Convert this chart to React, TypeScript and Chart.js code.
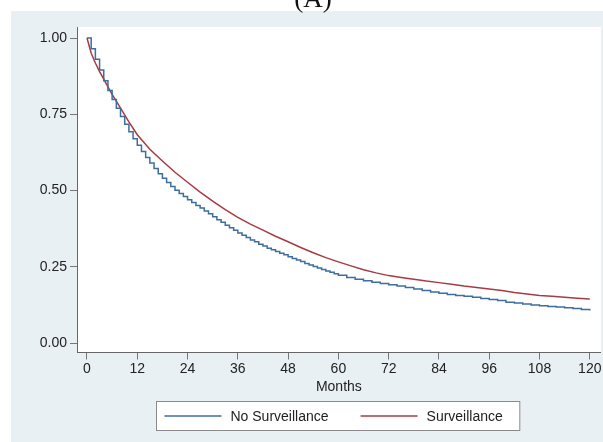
import { useEffect, useRef } from "react";
import { Chart, registerables } from "chart.js";

Chart.register(...registerables);

const panelTitle = "(A)";
const xAxisTitle = "Months";
const seriesLabels = ["No Surveillance", "Surveillance"];
const seriesColors = ["#3d6e9e", "#a83a42"];

const xTickValues = [0, 12, 24, 36, 48, 60, 72, 84, 96, 108, 120];
const yTickValues = [0, 0.25, 0.5, 0.75, 1];

const noSurvMonths = [
  0, 1, 2, 3, 4, 5, 6, 7, 8, 9, 10, 11, 12, 13, 14, 15, 16, 17, 18, 19, 20, 21, 22, 23, 24,
  25, 26, 27, 28, 29, 30, 31, 32, 33, 34, 35, 36, 37, 38, 39, 40, 41, 42, 43, 44, 45, 46,
  47, 48, 49, 50, 51, 52, 53, 54, 55, 56, 57, 58, 59, 60,
  62, 64, 66, 68, 70, 72, 74, 76, 78, 80, 82, 84, 86, 88, 90, 92, 94, 96,
  98, 100, 102, 104, 106, 108, 110, 112, 114, 116, 118, 120,
];
const noSurvValues = [
  1.0, 0.965, 0.93, 0.895, 0.86, 0.828, 0.798, 0.77, 0.743, 0.717, 0.693, 0.67, 0.648,
  0.628, 0.608, 0.59, 0.572, 0.555, 0.54, 0.526, 0.513, 0.501, 0.49, 0.48, 0.47,
  0.461, 0.451, 0.443, 0.433, 0.424, 0.414, 0.404, 0.396, 0.386, 0.378, 0.37, 0.361,
  0.353, 0.346, 0.338, 0.332, 0.324, 0.318, 0.311, 0.306, 0.3, 0.294, 0.289, 0.283,
  0.277, 0.272, 0.267, 0.261, 0.256, 0.251, 0.246, 0.241, 0.236, 0.232, 0.227, 0.222,
  0.215, 0.209, 0.204, 0.199, 0.195, 0.191, 0.187, 0.182, 0.177, 0.172, 0.167, 0.163,
  0.159, 0.156, 0.153, 0.15, 0.146, 0.143,
  0.139, 0.134, 0.131, 0.128, 0.125, 0.122, 0.12, 0.118, 0.116, 0.113, 0.11, 0.107,
];

const survMonths = [
  0, 1, 2, 3, 4, 5, 6, 8, 10, 12, 15, 18, 21, 24, 27, 30, 33, 36, 39, 42, 45, 48,
  51, 54, 57, 60, 63, 66, 69, 72, 75, 78, 81, 84, 87, 90, 93, 96, 99, 102, 105, 108,
  111, 114, 117, 120,
];
const survValues = [
  1.0, 0.95, 0.918, 0.89, 0.865, 0.84, 0.815, 0.77, 0.725, 0.683, 0.635, 0.597, 0.56,
  0.527, 0.495, 0.465, 0.437, 0.412, 0.39, 0.37, 0.35, 0.332,
  0.313, 0.296, 0.28, 0.266, 0.253, 0.24, 0.23, 0.221, 0.215, 0.209, 0.203, 0.198,
  0.193, 0.187, 0.182, 0.177, 0.172, 0.166, 0.161, 0.156,
  0.153, 0.15, 0.147, 0.144,
];

const FONT = "'Liberation Sans', Arial, Helvetica, sans-serif";

const backdropPlugin = {
  id: "backdrop",
  beforeDraw(chart: any) {
    const { ctx, width, height, chartArea } = chart;
    ctx.save();
    ctx.fillStyle = "#ffffff";
    ctx.fillRect(0, 0, width, height);
    ctx.fillStyle = "#e9f0f3";
    ctx.fillRect(11, 11, width - 11, height - 11);
    ctx.fillStyle = "#ffffff";
    ctx.fillRect(chartArea.left, chartArea.top, chartArea.right - chartArea.left, chartArea.bottom - chartArea.top);
    ctx.fillStyle = "#111111";
    ctx.font = "27px 'Liberation Serif', 'DejaVu Serif', serif";
    ctx.textAlign = "center";
    ctx.textBaseline = "alphabetic";
    ctx.fillText(panelTitle, 313, 7);
    ctx.restore();
  },
};

const boxLegendPlugin = {
  id: "boxLegend",
  afterDraw(chart: any) {
    const { ctx, chartArea } = chart;
    const datasets = chart.data.datasets;
    ctx.save();
    ctx.font = `14px ${FONT}`;
    const lineLen = 57;
    const gapText = 9;
    const gapItem = 32;
    const padL = 8;
    const padR = 17;
    let total = padL + padR;
    datasets.forEach((ds: any, i: number) => {
      total += lineLen + gapText + ctx.measureText(ds.label).width;
      if (i < datasets.length - 1) total += gapItem;
    });
    const cx = (chartArea.left + chartArea.right) / 2;
    const left = Math.round(cx - total / 2) - 0.5;
    const top = 401.5;
    const h = 29;
    ctx.fillStyle = "#ffffff";
    ctx.fillRect(left, top, total, h);
    ctx.strokeStyle = "#8a8a8a";
    ctx.lineWidth = 1;
    ctx.strokeRect(left, top, total, h);
    let x = left + padL;
    const yMid = top + h / 2;
    datasets.forEach((ds: any) => {
      ctx.strokeStyle = ds.borderColor;
      ctx.lineWidth = 1.5;
      ctx.beginPath();
      ctx.moveTo(x, yMid);
      ctx.lineTo(x + lineLen, yMid);
      ctx.stroke();
      x += lineLen + gapText;
      ctx.fillStyle = "#222222";
      ctx.textAlign = "left";
      ctx.textBaseline = "middle";
      ctx.fillText(ds.label, x, yMid + 1);
      x += ctx.measureText(ds.label).width + gapItem;
    });
    ctx.restore();
  },
};

export default function App() {
  const canvasRef = useRef<HTMLCanvasElement | null>(null);

  useEffect(() => {
    if (!canvasRef.current) return;
    const chart = new Chart(canvasRef.current, {
      type: "line",
      data: {
        datasets: [
          {
            label: seriesLabels[0],
            data: noSurvMonths.map((m, i) => ({ x: m, y: noSurvValues[i] })),
            borderColor: seriesColors[0],
            borderWidth: 1.5,
            pointRadius: 0,
            stepped: true,
            fill: false,
          },
          {
            label: seriesLabels[1],
            data: survMonths.map((m, i) => ({ x: m, y: survValues[i] })),
            borderColor: seriesColors[1],
            borderWidth: 1.5,
            pointRadius: 0,
            tension: 0,
            fill: false,
          },
        ],
      },
      options: {
        animation: false,
        responsive: false,
        maintainAspectRatio: false,
        layout: { padding: { left: 0, top: 27, right: 2, bottom: 44.5 } },
        plugins: {
          legend: { display: false },
          tooltip: { enabled: false },
        },
        scales: {
          x: {
            type: "linear",
            min: -2.386,
            max: 122.62,
            afterBuildTicks: (s: any) => {
              s.ticks = xTickValues.map((v) => ({ value: v }));
            },
            afterFit: (s: any) => {
              s.height = 45;
            },
            grid: { display: true, drawOnChartArea: false, drawTicks: true, tickLength: 7, color: "#777777", lineWidth: 1 },
            border: { display: true, color: "#666666", width: 1 },
            ticks: {
              font: { family: FONT, size: 14 },
              color: "#222222",
              padding: 1.5,
              maxRotation: 0,
              autoSkip: false,
            },
            title: {
              display: true,
              text: xAxisTitle,
              font: { family: FONT, size: 14 },
              color: "#222222",
              padding: { top: 0, bottom: 2 },
            },
          },
          y: {
            type: "linear",
            min: -0.0311,
            max: 1.0361,
            afterBuildTicks: (s: any) => {
              s.ticks = yTickValues.map((v) => ({ value: v }));
            },
            afterFit: (s: any) => {
              s.width = 77;
            },
            grid: { display: true, drawOnChartArea: false, drawTicks: true, tickLength: 7, color: "#777777", lineWidth: 1 },
            border: { display: true, color: "#666666", width: 1 },
            ticks: {
              font: { family: FONT, size: 14 },
              color: "#222222",
              padding: 3,
              callback: (v: any) => Number(v).toFixed(2),
            },
          },
        },
      },
      plugins: [backdropPlugin, boxLegendPlugin],
    });
    return () => chart.destroy();
  }, []);

  return (
    <div style={{ position: "absolute", left: 0, top: 0, width: 603, height: 442 }}>
      <canvas ref={canvasRef} width={603} height={442} style={{ display: "block", width: 603, height: 442 }} />
    </div>
  );
}
